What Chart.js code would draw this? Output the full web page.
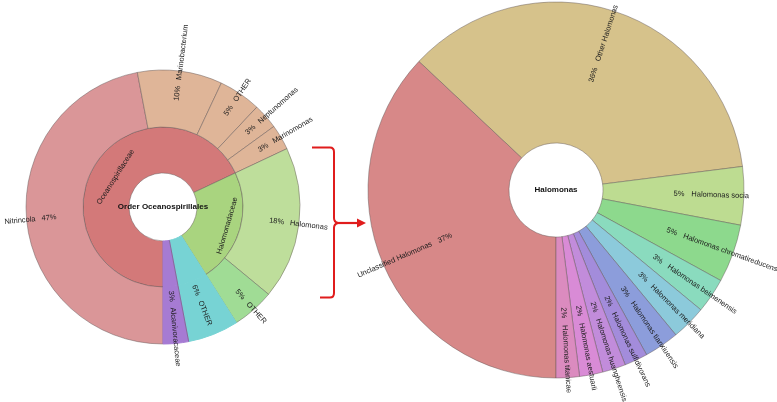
<!DOCTYPE html>
<html><head><meta charset="utf-8">
<script src="https://cdn.jsdelivr.net/npm/chart.js@4.4.1/dist/chart.umd.min.js"></script>
<style>
html,body{margin:0;padding:0;background:#fff;}
#wrap{position:relative;width:777px;height:402px;overflow:hidden;background:#fff;}
#wrap canvas,#wrap svg{position:absolute;left:0;top:0;pointer-events:none;}
</style></head><body>
<div id="wrap">
<canvas id="left" width="777" height="402"></canvas>
<canvas id="right" width="777" height="402"></canvas>
<svg width="777" height="402" viewBox="0 0 777 402">
  <path d="M312,147.5 L330,147.5 Q334,147.5 334,152 L334,218 Q334,222 338,223 Q334,224 334,228 L334,293 Q334,297.5 330,297.5 L320,297.5" fill="none" stroke="#e01c1c" stroke-width="2"/>
  <line x1="337" y1="223" x2="358" y2="223" stroke="#e01c1c" stroke-width="2.2"/>
  <polygon points="366,223 357,218.5 357,227.5" fill="#e01c1c"/>
</svg>
</div>
<script>
// ---------- data ----------
const leftCenterLabel = 'Order Oceanospirillales';
const leftFamilies = ['Oceanospirillaceae', 'Halomonadaceae', 'OTHER', 'Alcanivoracaceae'];
const leftFamilyValues = [68, 23, 6, 3];
const leftGenera = ['Nitrincola', 'Marinobacterium', 'OTHER', 'Neptunomonas', 'Marinomonas', 'Halomonas', 'OTHER', 'OTHER', 'Alcanivoracaceae'];
const leftGenusValues = [47, 10, 5, 3, 3, 18, 5, 6, 3];

const rightCenterLabel = 'Halomonas';
const rightSpecies = ['Unclassified Halomonas', 'Other Halomonas', 'Halomonas socia', 'Halomonas chromatireducens', 'Halomonas beimenensis', 'Halomonas meridiana', 'Halomonas tianxiuensis', 'Halomonas sulfidivorans', 'Halomonas huangheensis', 'Halomonas aestuarii', 'Halomonas titanicae'];
const rightSpeciesValues = [37, 36, 5, 5, 3, 3, 3, 2, 2, 2, 2];

// ---------- styles ----------
const leftGenusColors = ['#DA9698', '#DFB598', '#DFB598', '#DFB598', '#DFB598', '#BEDE9B', '#A0DC95', '#77D3D4', '#A67BD3'];
const leftFamilyColors = ['#D37979', '#A9D47F', '#77D3D4', '#A67BD3'];
const rightColors = ['#D78888', '#D6C28B', '#BDDC91', '#8DD98D', '#8ADBBE', '#8CCADB', '#8C9DDB', '#A38CDB', '#C28CDB', '#D98BD6', '#DB8BBF'];
const EDGE = 'rgba(95,85,85,0.45)';
const leftGenusBorders = leftGenusColors.map((c, i) => i >= 7 ? c : EDGE);
const leftFamilyBorders = leftFamilyColors.map((c, i) => i >= 2 ? c : EDGE);

const kronaPlugin = {
  id: 'krona',
  afterDatasetsDraw(chart, args, opts) {
    const ctx = chart.ctx;
    const metas = chart.data.datasets.map((d, i) => chart.getDatasetMeta(i));
    let hole = Infinity, cx = 0, cy = 0;
    metas.forEach(m => m.data.forEach(a => { hole = Math.min(hole, a.innerRadius); cx = a.x; cy = a.y; }));
    // seams between spanning wedges
    ctx.save();
    ctx.strokeStyle = EDGE; ctx.lineWidth = 1;
    (opts.seams || []).forEach(s => {
      const a = metas[s.ds].data[s.index];
      const ang = a.startAngle;
      ctx.beginPath();
      ctx.moveTo(cx + Math.cos(ang) * hole, cy + Math.sin(ang) * hole);
      ctx.lineTo(cx + Math.cos(ang) * a.outerRadius, cy + Math.sin(ang) * a.outerRadius);
      ctx.stroke();
    });
    ctx.restore();
    ctx.save();
    ctx.fillStyle = '#1c1c1c';
    ctx.font = opts.font;
    ctx.textBaseline = 'middle';
    chart.data.datasets.forEach((ds, di) => {
      const lab = opts.labels[di];
      if (!lab) return;
      metas[di].data.forEach((arc, i) => {
        const mode = lab.mode[i];
        if (mode === 'none') return;
        const a = (arc.startAngle + arc.endAngle) / 2;
        const name = ds.names[i];
        ctx.save();
        if (mode === 'radial') {
          ctx.translate(arc.x, arc.y);
          const rightSide = Math.cos(a) >= -1e-6;
          ctx.rotate(rightSide ? a : a + Math.PI);
          const sep = lab.sep[i], g = lab.gap;
          const pct = ds.data[i] + '%';
          if (rightSide) {
            ctx.textAlign = 'right'; ctx.fillText(pct, sep - g, 0);
            ctx.textAlign = 'left'; ctx.fillText(name, sep + g, 0);
          } else {
            ctx.textAlign = 'left'; ctx.fillText(pct, -(sep - g), 0);
            ctx.textAlign = 'right'; ctx.fillText(name, -(sep + g), 0);
          }
        } else {
          const r = lab.sep[i];
          ctx.translate(arc.x + Math.cos(a) * r, arc.y + Math.sin(a) * r);
          ctx.rotate(Math.sin(a) > 0 ? a - Math.PI / 2 : a + Math.PI / 2);
          ctx.textAlign = 'center';
          ctx.fillText(name, 0, 0);
        }
        ctx.restore();
      });
    });
    ctx.font = opts.centerFont;
    ctx.textAlign = 'center';
    ctx.fillStyle = '#111';
    ctx.fillText(opts.center, cx, cy);
    ctx.restore();
  }
};

new Chart(document.getElementById('left'), {
  type: 'doughnut',
  data: {
    labels: leftGenera,
    datasets: [
      { names: leftGenera, data: leftGenusValues, backgroundColor: leftGenusColors, borderColor: leftGenusBorders, borderWidth: 1, weight: 57 },
      { names: leftFamilies, data: leftFamilyValues, backgroundColor: leftFamilyColors, borderColor: leftFamilyBorders, borderWidth: 1, weight: 46 }
    ]
  },
  options: {
    responsive: false, animation: false,
    rotation: 180, radius: 137, cutout: '24.8%',
    layout: { padding: { left: 0, right: 451, top: 12, bottom: 0 } },
    plugins: {
      legend: { display: false }, tooltip: { enabled: false },
      krona: {
        font: '7.5px "Liberation Sans", Arial, sans-serif',
        centerFont: 'bold 8px "Liberation Sans", Arial, sans-serif',
        center: leftCenterLabel,
        seams: [{ ds: 0, index: 8 }],
        labels: [
          { mode: ['radial','radial','radial','radial','radial','radial','radial','radial','radial'], sep: [125,125,125,125,125,125,125,98,98], gap: 3 },
          { mode: ['tangential','tangential','none','none'], sep: [56, 67, 0, 0] }
        ]
      }
    }
  },
  plugins: [kronaPlugin]
});

new Chart(document.getElementById('right'), {
  type: 'doughnut',
  data: {
    labels: rightSpecies,
    datasets: [
      { names: rightSpecies, data: rightSpeciesValues, backgroundColor: rightColors, borderColor: EDGE, borderWidth: 1 }
    ]
  },
  options: {
    responsive: false, animation: false,
    rotation: 180, radius: 188, cutout: '25%',
    layout: { padding: { left: 335, right: 0, top: 0, bottom: 22 } },
    plugins: {
      legend: { display: false }, tooltip: { enabled: false },
      krona: {
        font: '7.5px "Liberation Sans", Arial, sans-serif',
        centerFont: 'bold 8px "Liberation Sans", Arial, sans-serif',
        center: rightCenterLabel,
        labels: [
          { mode: rightSpecies.map(() => 'radial'), sep: rightSpecies.map(() => 132), gap: 3.5 }
        ]
      }
    }
  },
  plugins: [kronaPlugin]
});
</script>
</body></html>
